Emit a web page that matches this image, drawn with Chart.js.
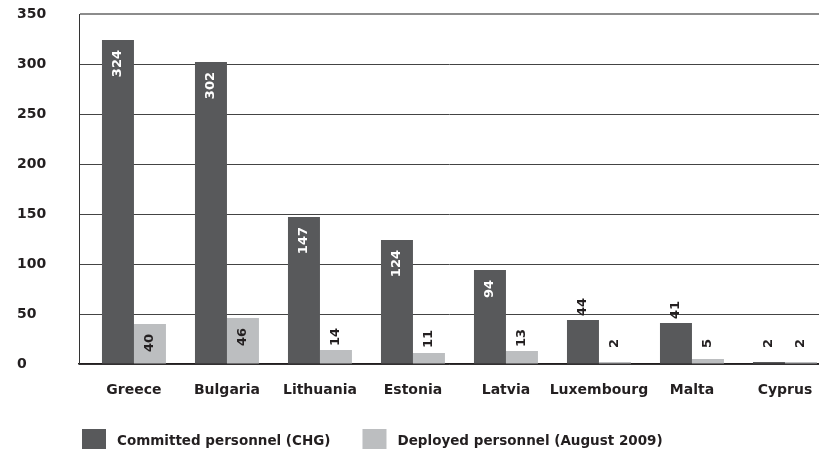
<!DOCTYPE html>
<html>
<head>
<meta charset="utf-8">
<script src="https://cdn.jsdelivr.net/npm/chart.js@4/dist/chart.umd.min.js"></script>
<style>
  html, body { margin: 0; padding: 0; background: #fff; overflow: hidden; }
  #wrap { width: 819px; height: 449px; position: relative; }
</style>
</head>
<body>
<div id="wrap"><canvas id="personnelChart"></canvas></div>
<script>
// ===== data =====
const countries = ['Greece', 'Bulgaria', 'Lithuania', 'Estonia', 'Latvia', 'Luxembourg', 'Malta', 'Cyprus'];
const committed = [324, 302, 147, 124, 94, 44, 41, 2];
const deployed = [40, 46, 14, 11, 13, 2, 5, 2];
const yTicks = [0, 50, 100, 150, 200, 250, 300, 350];
const seriesNames = ['Committed personnel (CHG)', 'Deployed personnel (August 2009)'];

const DARK = '#58595b';
const LIGHT = '#bcbec0';
const INK = '#231f20';
const FONT = '"DejaVu Sans", sans-serif';

// ===== value labels, rotated =====
const valueLabels = {
    id: 'valueLabels',
    afterDatasetsDraw(chart) {
        const c = chart.ctx;
        const bottom = chart.scales.y.getPixelForValue(0);
        c.save();
        c.font = 'bold 13px ' + FONT;
        c.textBaseline = 'middle';
        chart.data.datasets.forEach((ds, di) => {
            const meta = chart.getDatasetMeta(di);
            meta.data.forEach((bar, i) => {
                const v = ds.data[i].y;
                const inside = di === 0 ? v > 60 : v > 30;
                c.save();
                if (inside) {
                    c.translate(bar.x, bar.y + 10);
                    c.rotate(-Math.PI / 2);
                    c.textAlign = 'right';
                    c.fillStyle = di === 0 ? '#fff' : INK;
                } else {
                    c.translate(bar.x, Math.min(bar.y - 4, bottom - 16));
                    c.rotate(-Math.PI / 2);
                    c.textAlign = 'left';
                    c.fillStyle = INK;
                }
                c.fillText(String(v), 0, 0);
                c.restore();
            });
        });
        c.restore();
    }
};

// ===== legend at the bottom =====
const bottomLegend = {
    id: 'bottomLegend',
    afterDraw(chart) {
        const c = chart.ctx;
        c.save();
        c.font = 'bold 13.5px ' + FONT;
        c.textBaseline = 'middle';
        c.textAlign = 'left';
        let x = 82;
        chart.data.datasets.forEach((ds, di) => {
            c.fillStyle = ds.backgroundColor;
            c.fillRect(x, 429, 24, 24);
            c.fillStyle = INK;
            c.fillText(seriesNames[di], x + 35, 441);
            x += 35 + c.measureText(seriesNames[di]).width + 32;
        });
        c.restore();
    }
};

const ctx = document.getElementById('personnelChart').getContext('2d');
window.personnelChart = new Chart(ctx, {
    type: 'bar',
    data: {
        datasets: [
            {
                label: seriesNames[0],
                data: committed.map((v, i) => ({ x: i, y: v })),
                backgroundColor: DARK,
                categoryPercentage: 0.688,
                barPercentage: 1.0
            },
            {
                label: seriesNames[1],
                data: deployed.map((v, i) => ({ x: i, y: v })),
                backgroundColor: LIGHT,
                categoryPercentage: 0.688,
                barPercentage: 1.0
            }
        ]
    },
    options: {
        responsive: true,
        maintainAspectRatio: false,
        animation: false,
        layout: { padding: { left: 17, top: 14, right: 0, bottom: 0 } },
        plugins: {
            legend: { display: false },
            tooltip: { enabled: false }
        },
        scales: {
            x: {
                type: 'linear',
                offset: false,
                min: -0.591,
                max: 7.366,
                afterBuildTicks: s => { s.ticks = countries.map((c, i) => ({ value: i })); },
                afterFit: s => { s.height = 85; s.paddingLeft = 0; s.paddingRight = 0; },
                grid: { display: false, drawTicks: false },
                border: { display: true, color: INK, width: 1.5 },
                ticks: {
                    autoSkip: false,
                    maxRotation: 0,
                    padding: 18,
                    color: INK,
                    font: { family: FONT, weight: 'bold', size: 14 },
                    callback: v => countries[v]
                }
            },
            y: {
                min: 0,
                max: 350,
                afterBuildTicks: s => { s.ticks = yTicks.map(v => ({ value: v })); },
                afterFit: s => { s.width = 62; },
                grid: {
                    drawTicks: false,
                    color: c => c.tick && c.tick.value === 350 ? '#8c8c8c' : '#444',
                    lineWidth: c => c.tick && c.tick.value === 350 ? 2 : 1
                },
                border: { display: true, color: '#333', width: 1 },
                ticks: {
                    crossAlign: 'far',
                    color: INK,
                    font: { family: FONT, weight: 'bold', size: 14 }
                }
            }
        }
    },
    plugins: [valueLabels, bottomLegend]
});
</script>
</body>
</html>
